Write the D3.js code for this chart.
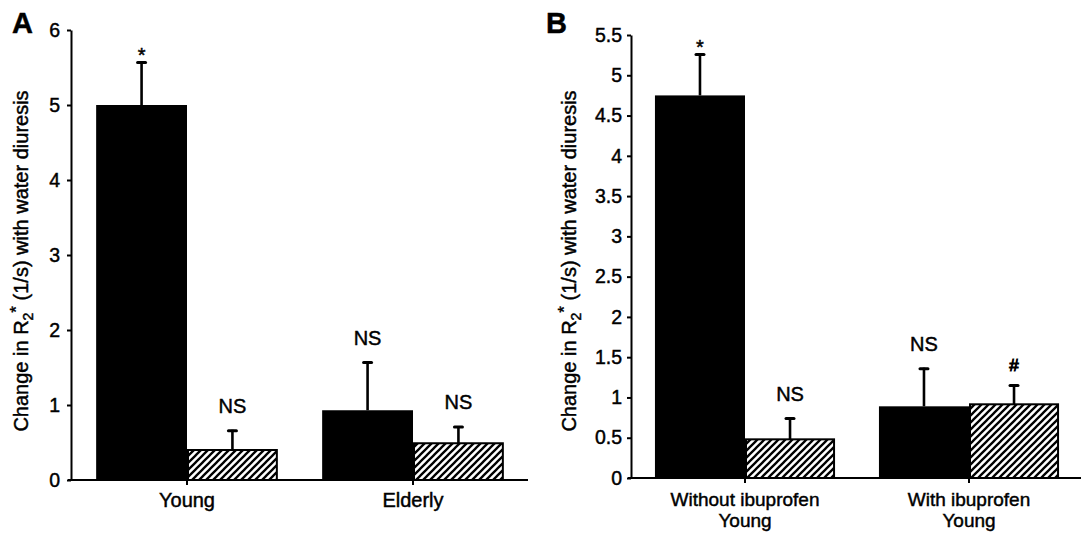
<!DOCTYPE html>
<html>
  <head>
    <meta charset="utf-8">
    <title>Change in R2* with water diuresis</title>
    <style>
      body { margin: 0; background: #fff; }
      text { font-family: "Liberation Sans", Arial, Helvetica, sans-serif; fill: #000; stroke: #000; stroke-width: 0.45px; }
    </style>
  </head>
  <body>
    <div id="container"></div>
    <script src="https://d3js.org/d3.v7.min.js"></script>
    <script>

      // DATA - PANEL A
      var groupsA = ["Young", "Elderly"];
      var blackA = [5.0, 0.93];
      var blackErrA = [0.58, 0.65];
      var hatchA = [0.40, 0.49];
      var hatchErrA = [0.27, 0.23];
      var blackMarkA = ["*", "NS"];
      var hatchMarkA = ["NS", "NS"];
      var ticksA = [0, 1, 2, 3, 4, 5, 6];

      // DATA - PANEL B
      var groupsB = ["Without ibuprofen", "With ibuprofen"];
      var subGroupB = "Young";
      var blackB = [4.75, 0.89];
      var blackErrB = [0.52, 0.48];
      var hatchB = [0.48, 0.915];
      var hatchErrB = [0.27, 0.245];
      var blackMarkB = ["*", "NS"];
      var hatchMarkB = ["NS", "#"];
      var ticksB = [0, 0.5, 1, 1.5, 2, 2.5, 3, 3.5, 4, 4.5, 5, 5.5];

      var W = 1081, H = 533;

      var svg = d3.select("#container")
        .append("svg")
        .attr("width", W)
        .attr("height", H);

      svg.append("rect").attr("width", W).attr("height", H).attr("fill", "#fff");

      // HATCH PATTERN
      var pat = svg.append("defs").append("pattern")
        .attr("id", "hatch")
        .attr("patternUnits", "userSpaceOnUse")
        .attr("width", 7)
        .attr("height", 7);
      pat.append("rect").attr("width", 7).attr("height", 7).attr("fill", "#fff");
      pat.append("path")
        .attr("d", "M-1,1 l2,-2 M0,7 l7,-7 M6,8 l2,-2")
        .attr("stroke", "#000")
        .attr("stroke-width", 2.3);

      // offsets for annotation glyphs above error bars
      function markGap(m) {
        if (m === "*") return 0;
        if (m === "#") return 14;
        return 17;
      }

      function drawPanel(p) {
        var g = svg.append("g");

        var y = d3.scaleLinear().domain(p.yDomain).range([p.y0, p.y1]);

        var x0 = d3.scaleBand()
          .domain(p.groups)
          .range([p.xStart, p.xEnd])
          .paddingInner(0.196)
          .paddingOuter(0.098);

        var x1 = d3.scaleBand()
          .domain(["black", "hatch"])
          .range([0, x0.bandwidth()]);

        // Y AXIS
        var ya = g.append("g")
          .attr("transform", "translate(" + p.axisX + ",0)")
          .call(d3.axisLeft(y)
            .tickValues(p.ticks)
            .tickFormat(d3.format("~g"))
            .tickSize(4)
            .tickSizeOuter(0)
            .tickPadding(p.tickPad));
        ya.select(".domain").attr("stroke-width", 2);
        ya.selectAll(".tick line").attr("stroke-width", 2);
        ya.selectAll(".tick text")
          .style("font-size", "19.5px")
          .attr("fill", "#000");

        // Y TITLE
        var t = g.append("text")
          .attr("transform", "translate(" + p.titleX + "," + p.titleY + ") rotate(-90)")
          .attr("text-anchor", "middle")
          .style("font-size", "20px");
        t.append("tspan").text("Change in R");
        t.append("tspan").attr("dy", 5).style("font-size", "14px").text("2");
        t.append("tspan").attr("dy", -11).style("font-size", "17px").text("*");
        t.append("tspan").attr("dy", 6).text(" (1/s) with water diuresis");

        // PANEL LETTER
        g.append("text")
          .attr("x", p.letterX)
          .attr("y", 33)
          .style("font-size", "29px")
          .style("font-weight", "bold")
          .text(p.letter);

        // BARS
        var rows = p.groups.map(function (d, i) {
          return [
            { key: "black", group: d, v: p.black[i], e: p.blackErr[i], m: p.blackMark[i] },
            { key: "hatch", group: d, v: p.hatch[i], e: p.hatchErr[i], m: p.hatchMark[i] }
          ];
        });
        var flat = [].concat.apply([], rows);

        // error bars (drawn first, bars cover the base)
        g.selectAll("line.err")
          .data(flat)
          .enter()
          .append("line")
          .attr("x1", d => x0(d.group) + x1(d.key) + x1.bandwidth() / 2)
          .attr("x2", d => x0(d.group) + x1(d.key) + x1.bandwidth() / 2)
          .attr("y1", d => y(d.v))
          .attr("y2", d => y(d.v + d.e))
          .attr("stroke", "#000")
          .attr("stroke-width", 2.6);
        g.selectAll("line.cap")
          .data(flat)
          .enter()
          .append("line")
          .attr("x1", d => x0(d.group) + x1(d.key) + x1.bandwidth() / 2 - 4)
          .attr("x2", d => x0(d.group) + x1(d.key) + x1.bandwidth() / 2 + 4)
          .attr("y1", d => y(d.v + d.e) + 1)
          .attr("y2", d => y(d.v + d.e) + 1)
          .attr("stroke", "#000")
          .attr("stroke-linecap", "round")
          .attr("stroke-width", 3);

        g.selectAll("rect.bar")
          .data(flat)
          .enter()
          .append("rect")
          .attr("x", d => x0(d.group) + x1(d.key) + (d.key === "hatch" ? 1 : 0))
          .attr("y", d => y(d.v))
          .attr("width", d => x1.bandwidth() - (d.key === "hatch" ? 2 : 0))
          .attr("height", d => y(0) - y(d.v))
          .attr("fill", d => d.key === "black" ? "#000" : "url(#hatch)")
          .attr("stroke", "#000")
          .attr("stroke-width", d => d.key === "black" ? 0 : 2);

        // significance marks
        g.selectAll("text.mark")
          .data(flat)
          .enter()
          .append("text")
          .attr("x", d => x0(d.group) + x1(d.key) + x1.bandwidth() / 2)
          .attr("y", d => y(d.v + d.e) - markGap(d.m))
          .attr("text-anchor", "middle")
          .style("font-size", d => d.m === "#" ? "17px" : "20px")
          .style("stroke-width", d => d.m === "#" ? "0.9px" : null)
          .text(d => d.m);

        // X AXIS
        var xa = g.append("g")
          .attr("transform", "translate(0," + y(0) + ")")
          .call(d3.axisBottom(x0).tickSize(5).tickSizeOuter(0).tickFormat(""));
        xa.select(".domain").remove();
        xa.selectAll(".tick line").attr("stroke-width", 2);
        xa.append("line")
          .attr("x1", p.axisX - 3)
          .attr("x2", p.axisEnd)
          .attr("stroke", "#000")
          .attr("stroke-width", 2);

        // group labels
        g.selectAll("text.glab")
          .data(p.groups)
          .enter()
          .append("text")
          .attr("x", d => x0(d) + x0.bandwidth() / 2)
          .attr("y", p.sub ? 506 : 507)
          .attr("text-anchor", "middle")
          .style("font-size", p.sub ? "19px" : "20px")
          .text(d => d);
        if (p.sub) {
          g.selectAll("text.sublab")
            .data(p.groups)
            .enter()
            .append("text")
            .attr("x", d => x0(d) + x0.bandwidth() / 2)
            .attr("y", 527)
            .attr("text-anchor", "middle")
            .style("font-size", "19px")
            .text(p.sub);
        }
      }

      drawPanel({
        letter: "A", letterX: 12,
        groups: groupsA, black: blackA, blackErr: blackErrA, hatch: hatchA, hatchErr: hatchErrA,
        blackMark: blackMarkA, hatchMark: hatchMarkA, ticks: ticksA,
        yDomain: [0, 6], y0: 480, y1: 30,
        axisX: 71, axisEnd: 528, xStart: 74, xEnd: 526, tickPad: 7,
        titleX: 28, titleY: 261
      });

      drawPanel({
        letter: "B", letterX: 546,
        groups: groupsB, sub: subGroupB, black: blackB, blackErr: blackErrB, hatch: hatchB, hatchErr: hatchErrB,
        blackMark: blackMarkB, hatchMark: hatchMarkB, ticks: ticksB,
        yDomain: [0, 5.5], y0: 478, y1: 35,
        axisX: 631, axisEnd: 1081, xStart: 633, xEnd: 1081, tickPad: 5,
        titleX: 576, titleY: 261
      });

    </script>
  </body>
</html>
